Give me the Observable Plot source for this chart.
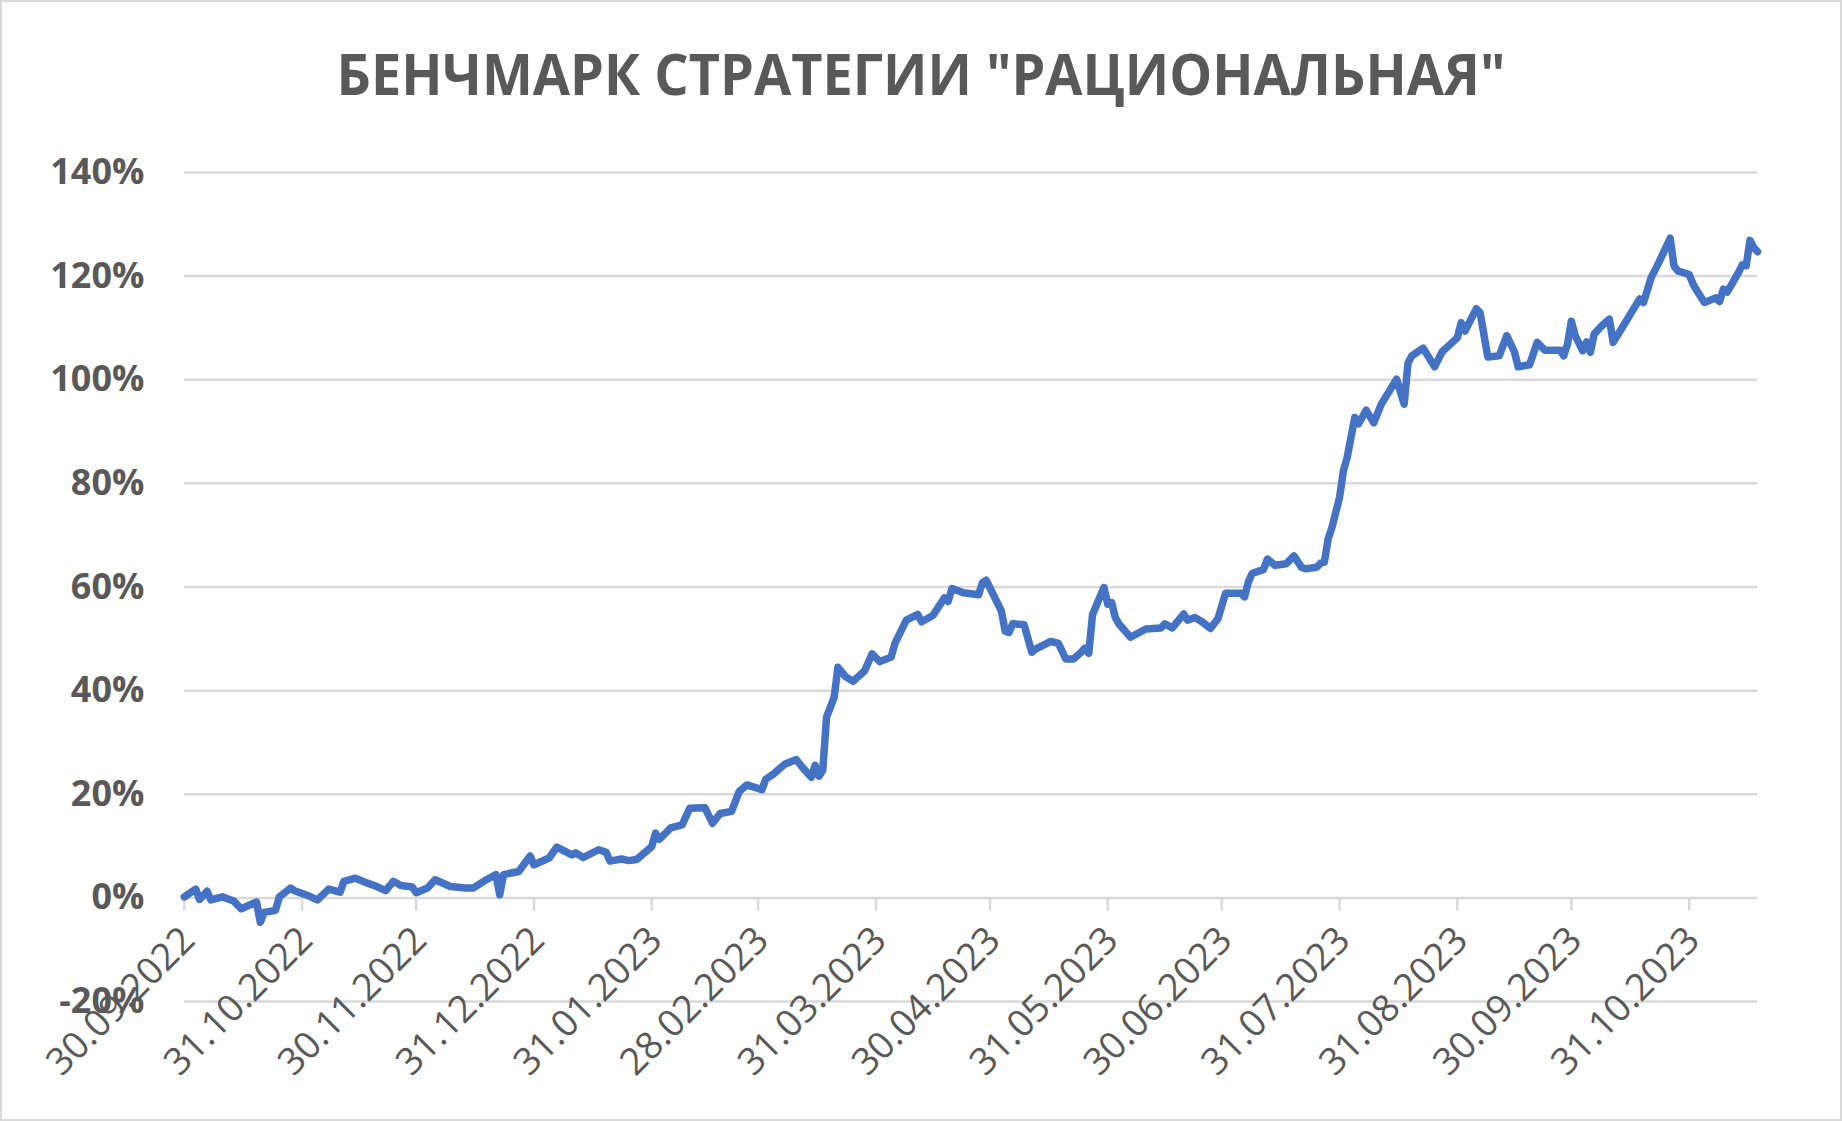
<!DOCTYPE html>
<html>
<head>
<meta charset="utf-8">
<script src="https://cdn.jsdelivr.net/npm/d3@7"></script>
<script src="https://cdn.jsdelivr.net/npm/@observablehq/plot@0.6"></script>
<style>
  html, body { margin: 0; padding: 0; background: #fff; overflow: hidden; }
  #chart { position: relative; width: 1842px; height: 1121px; box-sizing: border-box; border: 2px solid #d9d9d9; background: #fff; }
  #title { position: absolute; left: 0; right: 0; top: 44px; text-align: center; font-family: "Open Sans", sans-serif; font-weight: 700; font-size: 54px; line-height: 1; color: #595959; white-space: nowrap; transform: scaleY(1.06); }
  #plot { position: absolute; left: -2px; top: 128px; }
</style>
</head>
<body>
<div id="chart">
  <div id="title">БЕНЧМАРК СТРАТЕГИИ "РАЦИОНАЛЬНАЯ"</div>
  <div id="plot"></div>
</div>
<script>
const titleText = 'БЕНЧМАРК СТРАТЕГИИ "РАЦИОНАЛЬНАЯ"';

const dates = [
  "2022-09-30","2022-10-03","2022-10-04","2022-10-06","2022-10-07","2022-10-10","2022-10-13","2022-10-15","2022-10-19","2022-10-20",
  "2022-10-21","2022-10-24","2022-10-25","2022-10-28","2022-10-29","2022-11-02","2022-11-04","2022-11-07","2022-11-10","2022-11-11",
  "2022-11-14","2022-11-17","2022-11-19","2022-11-22","2022-11-24","2022-11-26","2022-11-29","2022-11-30","2022-12-03","2022-12-05",
  "2022-12-09","2022-12-13","2022-12-15","2022-12-18","2022-12-21","2022-12-22","2022-12-23","2022-12-27","2022-12-30","2022-12-31",
  "2023-01-04","2023-01-06","2023-01-10","2023-01-11","2023-01-13","2023-01-17","2023-01-19","2023-01-20","2023-01-23","2023-01-25",
  "2023-01-27","2023-01-31","2023-02-01","2023-02-02","2023-02-05","2023-02-08","2023-02-10","2023-02-14","2023-02-16","2023-02-18",
  "2023-02-21","2023-02-23","2023-02-25","2023-03-01","2023-03-02","2023-03-04","2023-03-07","2023-03-10","2023-03-12","2023-03-14",
  "2023-03-15","2023-03-16","2023-03-17","2023-03-18","2023-03-20","2023-03-21","2023-03-23","2023-03-25","2023-03-28","2023-03-30",
  "2023-04-01","2023-04-04","2023-04-05","2023-04-08","2023-04-11","2023-04-12","2023-04-15","2023-04-18","2023-04-19","2023-04-20",
  "2023-04-23","2023-04-27","2023-04-28","2023-04-29","2023-05-03","2023-05-04","2023-05-05","2023-05-06","2023-05-09","2023-05-11",
  "2023-05-12","2023-05-16","2023-05-18","2023-05-20","2023-05-22","2023-05-24","2023-05-25","2023-05-26","2023-05-27","2023-05-30",
  "2023-05-31","2023-06-01","2023-06-02","2023-06-03","2023-06-06","2023-06-10","2023-06-14","2023-06-15","2023-06-17","2023-06-20",
  "2023-06-21","2023-06-23","2023-06-25","2023-06-27","2023-06-29","2023-07-01","2023-07-05","2023-07-06","2023-07-07","2023-07-08",
  "2023-07-11","2023-07-12","2023-07-14","2023-07-17","2023-07-19","2023-07-21","2023-07-22","2023-07-25","2023-07-26","2023-07-27",
  "2023-07-28","2023-07-29","2023-07-31","2023-08-01","2023-08-02","2023-08-04","2023-08-05","2023-08-07","2023-08-09","2023-08-11",
  "2023-08-15","2023-08-17","2023-08-18","2023-08-19","2023-08-22","2023-08-25","2023-08-27","2023-08-31","2023-09-01","2023-09-02",
  "2023-09-05","2023-09-06","2023-09-08","2023-09-11","2023-09-13","2023-09-15","2023-09-16","2023-09-19","2023-09-21","2023-09-23",
  "2023-09-27","2023-09-28","2023-09-29","2023-09-30","2023-10-01","2023-10-03","2023-10-04","2023-10-05","2023-10-06","2023-10-08",
  "2023-10-10","2023-10-11","2023-10-14","2023-10-18","2023-10-19","2023-10-21","2023-10-23","2023-10-26","2023-10-27","2023-10-28",
  "2023-10-31","2023-11-01","2023-11-02","2023-11-04","2023-11-07","2023-11-08","2023-11-09","2023-11-10","2023-11-13","2023-11-14",
  "2023-11-15","2023-11-16","2023-11-17","2023-11-18"
];

const values = [
  0.2, 1.7, -0.3, 1.3, -0.4, 0.2, -0.6, -2.1, -0.8, -4.7,
  -2.8, -2.4, 0.2, 1.9, 1.4, 0.3, -0.4, 1.7, 1.1, 3.2,
  3.8, 2.9, 2.4, 1.4, 3.2, 2.4, 2.1, 1.0, 1.9, 3.5,
  2.2, 1.9, 1.9, 3.3, 4.5, 0.6, 4.5, 5.1, 8.1, 6.4,
  7.7, 9.8, 8.3, 8.7, 7.8, 9.3, 8.8, 7.1, 7.5, 7.2,
  7.4, 9.9, 12.5, 11.3, 13.5, 14.1, 17.3, 17.4, 14.4, 16.3,
  16.7, 20.5, 21.8, 20.9, 22.9, 23.9, 25.8, 26.7, 24.9, 23.3,
  25.6, 23.5, 24.6, 34.9, 38.7, 44.5, 42.7, 41.8, 43.8, 47.1,
  45.6, 46.5, 49.1, 53.6, 54.7, 53.3, 54.5, 57.9, 57.2, 59.7,
  58.9, 58.5, 60.8, 61.3, 55.4, 51.5, 51.2, 52.9, 52.7, 47.4,
  48.0, 49.5, 49.1, 46.1, 46.1, 47.4, 48.2, 47.2, 54.7, 59.9,
  56.7, 57.0, 54.1, 52.8, 50.3, 51.9, 52.1, 52.9, 52.1, 54.8,
  53.6, 54.1, 53.2, 52.0, 53.9, 58.8, 58.8, 58.1, 61.0, 62.6,
  63.4, 65.4, 64.2, 64.5, 66.0, 63.8, 63.5, 63.8, 64.6, 64.8,
  69.3, 71.5, 77.3, 82.4, 85.0, 92.7, 91.5, 94.1, 91.7, 95.3,
  100.1, 95.3, 103.2, 104.6, 106.1, 102.5, 105.4, 108.1, 111.0, 109.4,
  113.7, 112.9, 104.4, 104.6, 108.5, 105.4, 102.5, 102.9, 107.2, 105.7,
  105.7, 104.6, 106.9, 111.3, 108.5, 105.6, 107.3, 105.3, 108.8, 110.4,
  111.7, 107.2, 110.8, 115.6, 114.9, 119.7, 122.6, 127.3, 122.0, 121.0,
  120.3, 118.5, 117.2, 114.9, 115.8, 115.1, 117.5, 116.9, 120.7, 122.2,
  122.0, 126.9, 125.5, 124.7
];

const xTickDates = [
  "2022-09-30","2022-10-31","2022-11-30","2022-12-31","2023-01-31","2023-02-28","2023-03-31",
  "2023-04-30","2023-05-31","2023-06-30","2023-07-31","2023-08-31","2023-09-30","2023-10-31"
];
const xTickLabels = [
  "30.09.2022","31.10.2022","30.11.2022","31.12.2022","31.01.2023","28.02.2023","31.03.2023",
  "30.04.2023","31.05.2023","30.06.2023","31.07.2023","31.08.2023","30.09.2023","31.10.2023"
];
const yTicks = [-20, 0, 20, 40, 60, 80, 100, 120, 140];

const parse = d3.utcParse("%Y-%m-%d");
const series = dates.map((d, i) => ({date: parse(d), value: values[i]}));
const xTicks = xTickDates.map((d, i) => ({date: parse(d), label: xTickLabels[i]}));

document.getElementById("title").textContent = titleText;

const chart = Plot.plot({
  width: 1842,
  height: 993,
  marginTop: 42,
  marginBottom: 121,
  marginLeft: 184,
  marginRight: 83,
  style: {fontFamily: "Open Sans, sans-serif", color: "#595959", background: "transparent", overflow: "visible"},
  x: {type: "utc", domain: [parse("2022-09-30"), parse("2023-11-18")], axis: null},
  y: {domain: [-20, 140], axis: null},
  marks: [
    Plot.ruleY(yTicks, {y: d => d, stroke: "#d9d9d9", strokeWidth: 2.5}),
    Plot.ruleX(xTicks, {x: "date", y1: 0, y2: 0, insetBottom: -13, stroke: "#d9d9d9", strokeWidth: 2.5}),
    Plot.axisY({ticks: yTicks, tickSize: 0, tickPadding: 40, tickFormat: d => `${d}%`, fontSize: 36, fontWeight: "bold", fill: "#595959", label: null}),
    Plot.text(xTicks, {x: "date", y: 0, text: "label", rotate: -45, textAnchor: "end", dx: 4, dy: 36, fontSize: 37.5, fill: "#595959"}),
    Plot.line(series, {x: "date", y: "value", stroke: "#4472c4", strokeWidth: 7.5, strokeLinejoin: "round", strokeLinecap: "round"})
  ]
});
document.getElementById("plot").appendChild(chart);
</script>
</body>
</html>
